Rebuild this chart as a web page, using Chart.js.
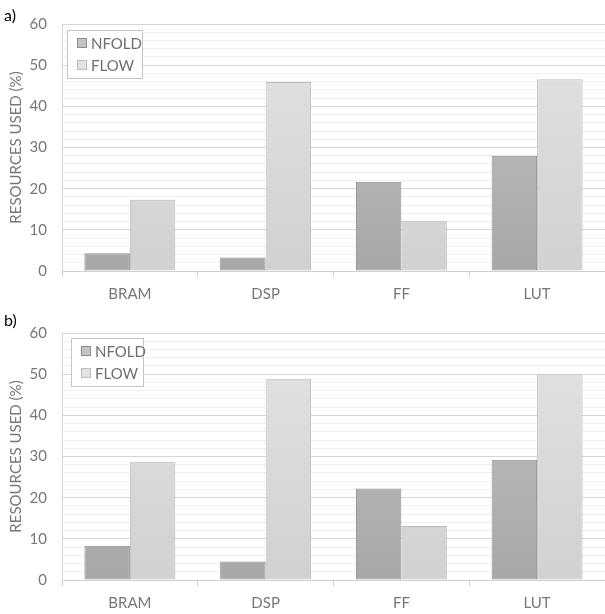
<!DOCTYPE html>
<html>
<head>
<meta charset="utf-8">
<script src="https://cdn.jsdelivr.net/npm/chart.js@4.4.1/dist/chart.umd.min.js"></script>
<style>
  html, body { margin: 0; padding: 0; background: #fff; }
  #wrap { position: relative; width: 605px; height: 614px; overflow: hidden; }
  .box { position: absolute; left: 0; width: 605px; }
  .tag { position: absolute; left: 4px; font: 16px Lato, "Open Sans", sans-serif; color: #000; }
</style>
</head>
<body>
<div id="wrap">
  <div class="box" style="top:0;height:309px"><canvas id="chartA"></canvas></div>
  <div class="box" style="top:309px;height:305px"><canvas id="chartB"></canvas></div>
  <div class="tag" style="top:5px">a)</div>
  <div class="tag" style="top:310px">b)</div>
</div>
<script>
// categories and series
const categories = ['BRAM', 'DSP', 'FF', 'LUT'];
const seriesNames = ['NFOLD', 'FLOW'];
const nfoldA = [4.3, 3.3, 21.7, 28.0];
const flowA = [17.3, 45.9, 12.2, 46.6];
const nfoldB = [8.3, 4.5, 22.2, 29.2];
const flowB = [28.7, 48.9, 13.1, 49.9];
const yTicks = [0, 10, 20, 30, 40, 50, 60];
const yTitle = 'RESOURCES USED (%)';

const FONT = 'Lato, "Open Sans", sans-serif';
const TEXT = '#777777';

// fill colours: top / bottom of gradient, plus border
const styles = [
    { top: '#c4c4c4', bottom: '#a7a7a7', border: '#8c8c8c' },
    { top: '#e3e3e3', bottom: '#d1d1d1', border: '#bcbcbc' }
];

function gradient(ctx, s) {
    const area = ctx.chart.chartArea;
    if (!area) return s.bottom;
    const g = ctx.chart.ctx.createLinearGradient(0, area.top, 0, area.bottom);
    g.addColorStop(0, s.top);
    g.addColorStop(1, s.bottom);
    return g;
}

// legend inside plot area with white box and border
const boxLegend = {
    id: 'boxLegend',
    afterDatasetsDraw(chart, args, opts) {
        const c = chart.ctx;
        const a = chart.chartArea;
        const x = a.left + opts.dx, y = a.top + opts.dy;
        const w = opts.w, h = 48;
        c.save();
        c.fillStyle = '#ffffff';
        c.fillRect(x, y, w, h);
        c.strokeStyle = '#c4c4c4';
        c.lineWidth = 1;
        c.strokeRect(x + 0.5, y + 0.5, w, h);
        c.font = '15px ' + FONT;
        c.textBaseline = 'middle';
        chart.data.datasets.forEach((ds, i) => {
            const cy = y + 13 + i * 22;
            const s = styles[i];
            c.fillStyle = s.top;
            c.fillRect(x + 10, cy - 5, 9, 9);
            c.strokeStyle = s.border;
            c.strokeRect(x + 10.5, cy - 4.5, 9, 9);
            c.fillStyle = '#6e6e6e';
            c.fillText(ds.label, x + 24, cy + 1);
        });
        c.restore();
    }
};

function makeChart(id, nfold, flow, xHeight, legendPos) {
    const ctx = document.getElementById(id).getContext('2d');
    return new Chart(ctx, {
        type: 'bar',
        data: {
            labels: categories,
            datasets: [nfold, flow].map((d, i) => ({
                label: seriesNames[i],
                data: d,
                backgroundColor: c => gradient(c, styles[i]),
                borderColor: styles[i].border,
                borderWidth: 1,
                borderSkipped: false,
                categoryPercentage: 0.67,
                barPercentage: 1.0
            }))
        },
        options: {
            responsive: true,
            maintainAspectRatio: false,
            animation: false,
            layout: { padding: { top: 24, right: 0, left: 0, bottom: 0 } },
            plugins: {
                legend: { display: false },
                tooltip: { enabled: false },
                boxLegend: legendPos
            },
            scales: {
                x: {
                    offset: true,
                    grid: {
                        offset: true,
                        drawOnChartArea: false,
                        color: '#d0d0d0',
                        tickLength: 6
                    },
                    border: { color: '#d0d0d0' },
                    ticks: {
                        color: TEXT,
                        font: { family: FONT, size: 15 },
                        padding: 8
                    },
                    afterFit: s => { s.height = xHeight; }
                },
                y: {
                    min: 0,
                    max: 60,
                    ticks: {
                        stepSize: 2,
                        autoSkip: false,
                        color: TEXT,
                        font: { family: FONT, size: 15 },
                        padding: 15,
                        callback: v => yTicks.includes(v) ? v : ''
                    },
                    grid: {
                        drawTicks: false,
                        color: c => (c.tick && c.tick.value % 10 === 0) ? '#d6d6d6' : '#efefef'
                    },
                    border: { display: true, color: '#d6d6d6' },
                    title: {
                        display: true,
                        text: yTitle,
                        color: TEXT,
                        font: { family: FONT, size: 15 },
                        padding: { top: 7, bottom: 0 }
                    },
                    afterFit: s => { s.width = 62; }
                }
            }
        },
        plugins: [boxLegend]
    });
}

makeChart('chartA', nfoldA, flowA, 38, { dx: 5, dy: 6, w: 75 });
makeChart('chartB', nfoldB, flowB, 34, { dx: 9, dy: 5, w: 72 });
</script>
</body>
</html>
